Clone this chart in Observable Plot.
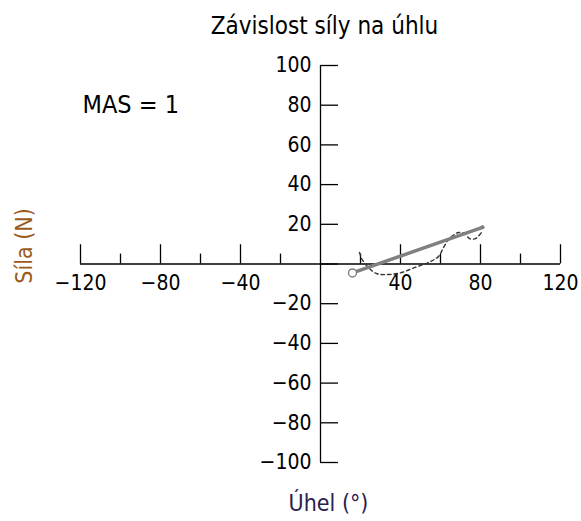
<!DOCTYPE html>
<html>
<head>
<meta charset="utf-8">
<script src="https://cdn.jsdelivr.net/npm/d3@7"></script>
<script src="https://cdn.jsdelivr.net/npm/@observablehq/plot@0.6"></script>
<style>
  html, body { margin: 0; padding: 0; background: #fff; }
  #chart svg { display: block; }
</style>
</head>
<body>
<div id="chart"></div>
<script>
// ---- data ----
const titleText = "Závislost síly na úhlu";
const annotation = "MAS = 1";
const xLabel = "Úhel (°)";
const yLabel = "Síla (N)";

// fitted (solid) line
const fitAngle = [16, 81];
const fitForce = [-4.5, 18.5];

// measured (dashed) curve
const measAngle = [19.5, 20, 20.5, 24, 28, 34, 40.5, 47, 54, 59, 61.5, 64, 67, 69, 72, 74.5, 77.5, 80.5];
const measForce = [5.8, 4.3, 2.8, -1.8, -4.8, -5.3, -4.3, -1.8, 0.8, 3.8, 8.3, 12.3, 14.9, 15.9, 15.4, 12.8, 12.8, 15.9];

// axis ticks
const xMajorTicks = [-120, -80, -40, 40, 80, 120];
const xMinorTicks = [-100, -60, -20, 20, 60, 100];
const xTickLabels = [-120, -80, -40, 40, 80, 120];
const yTicks = [-100, -80, -60, -40, -20, 0, 20, 40, 60, 80, 100];
const yTickLabels = [-100, -80, -60, -40, -20, 20, 40, 60, 80, 100];

const fit = fitAngle.map((a, i) => ({angle: a, force: fitForce[i]}));
const meas = measAngle.map((a, i) => ({angle: a, force: measForce[i]}));

const fmt = v => (v < 0 ? "\u2212" + Math.abs(v) : String(v));
const font = "DejaVu Sans Condensed, DejaVu Sans, sans-serif";

const plot = Plot.plot({
  width: 581,
  height: 521,
  marginLeft: 80,
  marginRight: 21,
  marginTop: 65,
  marginBottom: 59,
  x: {domain: [-120, 120], axis: null},
  y: {domain: [-100, 100], axis: null},
  style: {fontFamily: font, background: "#fff", overflow: "visible"},
  marks: [
    // axis lines
    Plot.ruleY([0], {x1: -120, x2: 120, stroke: "#000", strokeWidth: 1.3}),
    Plot.ruleX([0], {y1: -100, y2: 100, stroke: "#000", strokeWidth: 1.3}),
    // x ticks (upwards)
    Plot.ruleX(xMajorTicks, {x: d => d, y1: 0, y2: 9.7, stroke: "#000", strokeWidth: 1.3}),
    Plot.ruleX(xMinorTicks, {x: d => d, y1: 0, y2: 5, stroke: "#000", strokeWidth: 1.3}),
    // y ticks (rightwards)
    Plot.ruleY(yTicks, {y: d => d, x1: 0, x2: 9, stroke: "#000", strokeWidth: 1.3}),
    // tick labels
    Plot.text(xTickLabels, {x: d => d, y: 0, text: fmt, dy: 19, fontSize: 21, fill: "#000"}),
    Plot.text(yTickLabels, {x: 0, y: d => d, text: fmt, dx: -9, textAnchor: "end", fontSize: 21, fill: "#000"}),
    // data
    Plot.line(meas, {x: "angle", y: "force", stroke: "#333", strokeWidth: 1.4, strokeDasharray: "3.5,3", curve: "catmull-rom"}),
    Plot.line(fit, {x: "angle", y: "force", stroke: "#808080", strokeWidth: 3.5}),
    Plot.dot(fit.slice(0, 1), {x: "angle", y: "force", r: 4, stroke: "#808080", fill: "#fff", strokeWidth: 1.4}),
    Plot.dot(fit.slice(1), {x: "angle", y: "force", r: 2, fill: "#808080"}),
    // texts
    Plot.text([titleText], {frameAnchor: "top", lineAnchor: "middle", dx: 4, dy: -39, fontSize: 24, fill: "#000"}),
    Plot.text([annotation], {frameAnchor: "top-left", lineAnchor: "middle", dx: 2, dy: 39, textAnchor: "start", fontSize: 25, fill: "#000"}),
    Plot.text([yLabel], {frameAnchor: "left", lineAnchor: "middle", textAnchor: "middle", dx: -56, dy: -18, rotate: -90, fontSize: 23, fill: "#9a5a1a"}),
    Plot.text([xLabel], {frameAnchor: "bottom", lineAnchor: "middle", dx: 8, dy: 41, fontSize: 23, fill: "#2a2050"})
  ]
});
document.getElementById("chart").appendChild(plot);
</script>
</body>
</html>
